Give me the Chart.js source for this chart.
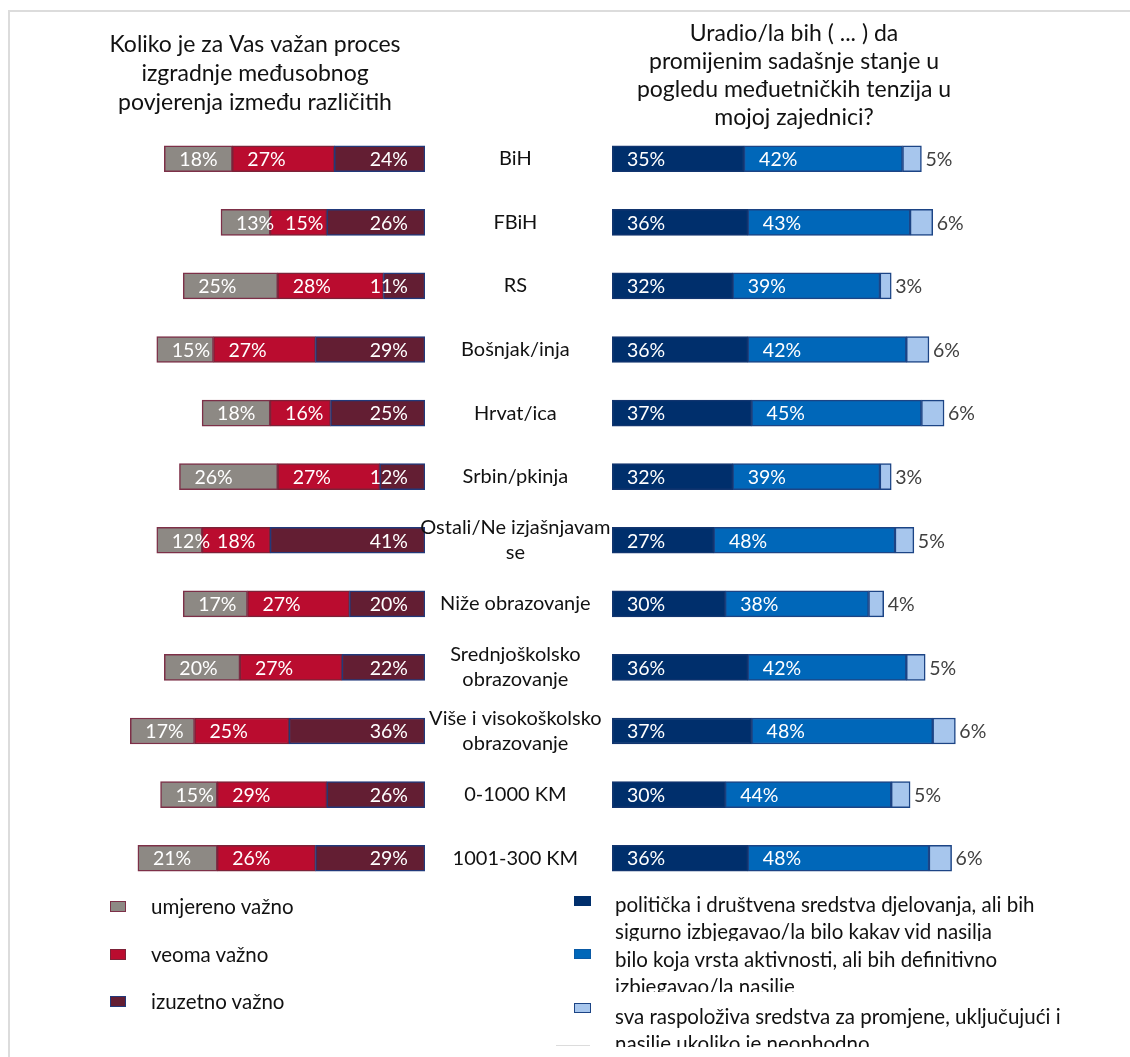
<!DOCTYPE html>
<html>
<head>
<meta charset="utf-8">
<script src="https://cdn.jsdelivr.net/npm/chart.js@4.4.0/dist/chart.umd.min.js"></script>
<style>
  body { margin: 0; background: #fff; }
  #wrap { position: relative; width: 1130px; height: 1057px; overflow: hidden; font-family: Lato, sans-serif; color: #111; }
  #frame { position: absolute; left: 8px; top: 10px; width: 1200px; height: 1200px; border-top: 2px solid #dcdcdc; border-left: 2px solid #dcdcdc; }
  #stub { position: absolute; left: 556px; top: 1045px; width: 34px; height: 1px; background: #dcdcdc; }
  canvas { position: absolute; top: 0; }
  #leftChart { left: 0; }
  #rightChart { left: 410px; }
  .box { position: absolute; box-sizing: border-box; border: 1.5px solid; }
  .txt { position: absolute; white-space: nowrap; overflow: hidden; }
</style>
</head>
<body>
<div id="wrap">
  <div id="frame"></div>
  <div id="stub"></div>
  <canvas id="leftChart" width="510" height="1057"></canvas>
  <canvas id="rightChart" width="770" height="1057"></canvas>
  <div id="legends"></div>
</div>
<script>
var categories = ['BiH', 'FBiH', 'RS', 'Bošnjak/inja', 'Hrvat/ica', 'Srbin/pkinja',
  ['Ostali/Ne izjašnjavam', 'se'], 'Niže obrazovanje', ['Srednjoškolsko', 'obrazovanje'],
  ['Više i visokoškolsko', 'obrazovanje'], '0-1000 KM', '1001-300 KM'];

// lijevo - koliko je vazan proces
var umjereno = [18, 13, 25, 15, 18, 26, 12, 17, 20, 17, 15, 21];
var veoma    = [27, 15, 28, 27, 16, 27, 18, 27, 27, 25, 29, 26];
var izuzetno = [24, 26, 11, 29, 25, 12, 41, 20, 22, 36, 26, 29];

// desno - uradio/la bih
var politicka   = [35, 36, 32, 36, 37, 32, 27, 30, 36, 37, 30, 36];
var biloKoja    = [42, 43, 39, 42, 45, 39, 48, 38, 42, 48, 44, 48];
var svaSredstva = [5, 6, 3, 6, 6, 3, 5, 4, 5, 6, 5, 6];

var leftNames = ['umjereno važno', 'veoma važno', 'izuzetno važno'];
var rightNames = [
  ['politička i društvena sredstva djelovanja, ali bih', 'sigurno izbjegavao/la bilo kakav vid nasilja'],
  ['bilo koja vrsta aktivnosti, ali bih definitivno', 'izbjegavao/la nasilje'],
  ['sva raspoloživa sredstva za promjene, uključujući i', 'nasilje ukoliko je neophodno']
];

var leftTitle = ['Koliko je za Vas važan proces', 'izgradnje međusobnog', 'povjerenja između različitih'];
var rightTitle = ['Uradio/la bih ( ... ) da', 'promijenim sadašnje stanje u', 'pogledu međuetničkih tenzija u', 'mojoj zajednici?'];

// procenti na segmentima
var pctLabels = {
  id: 'pctLabels',
  afterDatasetsDraw: function (chart) {
    var ctx = chart.ctx;
    ctx.save();
    ctx.font = '19.5px Lato';
    ctx.textBaseline = 'middle';
    chart.data.datasets.forEach(function (ds, i) {
      var meta = chart.getDatasetMeta(i);
      meta.data.forEach(function (bar, j) {
        var l = Math.min(bar.x, bar.base);
        var r = Math.max(bar.x, bar.base);
        var txt = ds.data[j] + '%';
        if (ds.labelAt === 'start') {
          ctx.textAlign = 'left';
          ctx.fillStyle = '#fff';
          ctx.fillText(txt, l + 15, bar.y + 1);
        } else if (ds.labelAt === 'end') {
          ctx.textAlign = 'right';
          ctx.fillStyle = '#fff';
          ctx.fillText(txt, r - 17, bar.y + 1);
        } else {
          ctx.textAlign = 'left';
          ctx.fillStyle = '#404040';
          ctx.fillText(txt, r + 4, bar.y + 1);
        }
      });
    });
    ctx.restore();
  }
};

new Chart(document.getElementById('leftChart'), {
  type: 'bar',
  data: {
    labels: categories,
    datasets: [
      { label: leftNames[2], data: izuzetno, backgroundColor: '#631e33', borderColor: '#22397a', labelAt: 'end' },
      { label: leftNames[1], data: veoma, backgroundColor: '#ba0c2f', borderColor: '#7c2238', labelAt: 'start' },
      { label: leftNames[0], data: umjereno, backgroundColor: '#8d8984', borderColor: '#7d3048', labelAt: 'start' }
    ]
  },
  options: {
    indexAxis: 'y',
    responsive: false,
    animation: false,
    layout: { padding: { left: 85, right: 85, top: 0, bottom: 167 } },
    datasets: { bar: { barThickness: 26, borderWidth: 1.5, borderSkipped: false } },
    scales: {
      x: { stacked: true, reverse: true, min: 0, max: 90, display: false },
      y: { stacked: true, display: false }
    },
    plugins: {
      legend: { display: false },
      tooltip: { enabled: false },
      title: {
        display: true, text: leftTitle, color: '#111',
        font: { family: 'Lato', size: 23, weight: 'normal', lineHeight: 1.26 },
        padding: { top: 30.5, bottom: 9.5 }
      }
    }
  },
  plugins: [pctLabels]
});

new Chart(document.getElementById('rightChart'), {
  type: 'bar',
  data: {
    labels: categories,
    datasets: [
      { label: rightNames[0].join(' '), data: politicka, backgroundColor: '#002f6c', borderColor: '#12356f', labelAt: 'start' },
      { label: rightNames[1].join(' '), data: biloKoja, backgroundColor: '#0067b9', borderColor: '#1c4485', labelAt: 'start' },
      { label: rightNames[2].join(' '), data: svaSredstva, backgroundColor: '#a7c6ed', borderColor: '#1c4485', labelAt: 'outside' }
    ]
  },
  options: {
    indexAxis: 'y',
    responsive: false,
    animation: false,
    layout: { padding: { left: 0, right: 2, top: 0, bottom: 167 } },
    datasets: { bar: { barThickness: 26, borderWidth: 1.5, borderSkipped: false } },
    scales: {
      x: { stacked: true, min: 0, max: 150, display: false },
      y: {
        stacked: true,
        grid: { display: false },
        border: { display: false },
        ticks: { color: '#111', font: { family: 'Lato', size: 20, lineHeight: 1.25 }, crossAlign: 'center', padding: -6.5, autoSkip: false },
        afterFit: function (s) { s.width = 202; }
      }
    },
    plugins: {
      legend: { display: false },
      tooltip: { enabled: false },
      title: {
        display: true, text: rightTitle, color: '#111',
        font: { family: 'Lato', size: 23, weight: 'normal', lineHeight: 1.217 },
        padding: { top: 20, bottom: -5 }
      }
    }
  },
  plugins: [pctLabels]
});

// legende
var lg = document.getElementById('legends');
var leftBoxes = [['#8d8984', '#7d3048'], ['#ba0c2f', '#7c2238'], ['#631e33', '#22397a']];
var leftY = [906, 954, 1001];
leftNames.forEach(function (name, i) {
  lg.innerHTML += '<div class="box" style="left:110px;top:' + (leftY[i] - 5) + 'px;width:16px;height:11px;background:' +
    leftBoxes[i][0] + ';border-color:' + leftBoxes[i][1] + '"></div>' +
    '<div class="txt" style="left:151px;top:' + (leftY[i] - 14) + 'px;font-size:20.5px;line-height:28px">' + name + '</div>';
});
var rightBoxes = [['#002f6c', '#002f6c', 896], ['#0067b9', '#0a5aa5', 949], ['#a7c6ed', '#1c4485', 1003]];
var rightTops = [891, 946, 1003];
var rightClip = [50, 46, 44];
rightNames.forEach(function (lines, i) {
  lg.innerHTML += '<div class="box" style="left:574px;top:' + rightBoxes[i][2] + 'px;width:17px;height:10px;background:' +
    rightBoxes[i][0] + ';border-color:' + rightBoxes[i][1] + '"></div>' +
    '<div class="txt" style="left:615px;top:' + rightTops[i] + 'px;height:' + rightClip[i] + 'px;font-size:20.5px;line-height:27px">' +
    lines.join('<br>') + '</div>';
});
</script>
</body>
</html>
